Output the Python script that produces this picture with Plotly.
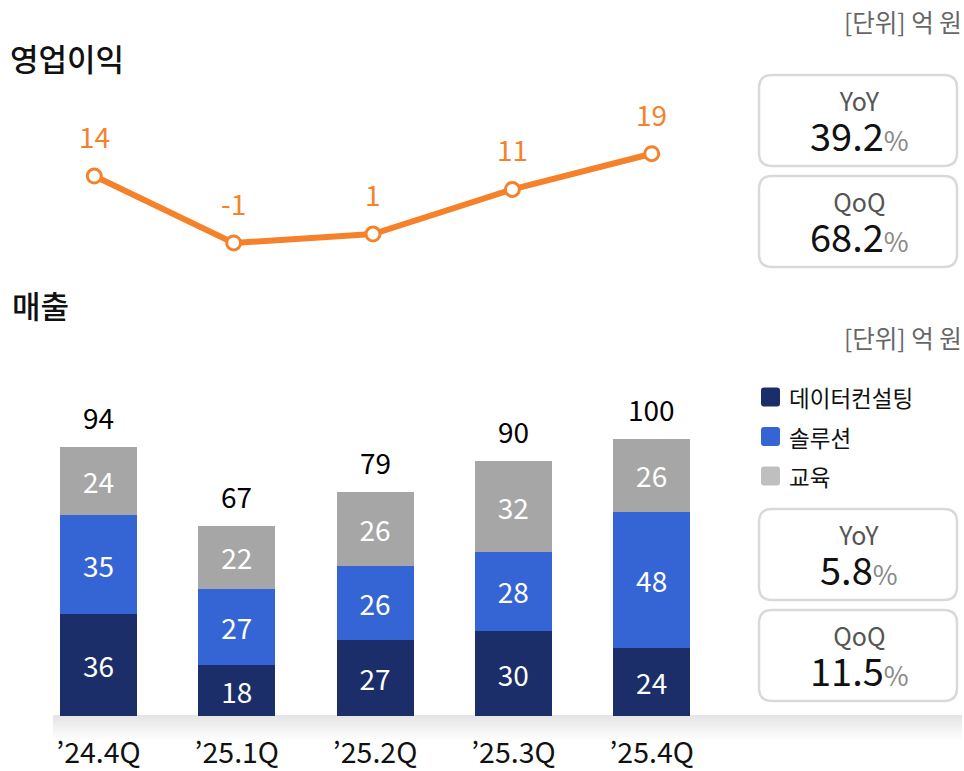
import plotly.graph_objects as go

# ---------------- data ----------------
quarters = ["’24.4Q", "’25.1Q", "’25.2Q", "’25.3Q", "’25.4Q"]
op_profit = [14, -1, 1, 11, 19]
consulting = [36, 18, 27, 30, 24]
solution = [35, 27, 26, 28, 48]
education = [24, 22, 26, 32, 26]
revenue_total = [94, 67, 79, 90, 100]
series_names = ["데이터컨설팅", "솔루션", "교육"]
op_growth_labels = ["YoY", "QoQ"]
op_growth_values = ["39.2", "68.2"]
rev_growth_labels = ["YoY", "QoQ"]
rev_growth_values = ["5.8", "11.5"]
unit_text = "[단위] 억 원"
title_op = "영업이익"
title_rev = "매출"

# ---------------- style ----------------
W, H = 964, 771
FONT = "Noto Sans CJK KR"
C_NAVY = "#1b2e69"
C_BLUE = "#3565d4"
C_GRAY = "#a6a6a6"
C_LEG_GRAY = "#bfbfbf"
C_ORANGE = "#f5822a"
colors = [C_NAVY, C_BLUE, C_GRAY]


def px(x):
    return x / W


def py(y):
    return 1 - y / H


def rrect(x0, y0, x1, y1, r):
    X0, X1 = px(x0), px(x1)
    Y0, Y1 = py(y0), py(y1)  # Y0 top, Y1 bottom
    rx, ry = r / W, r / H
    return (f"M {X0+rx},{Y0} L {X1-rx},{Y0} Q {X1},{Y0} {X1},{Y0-ry} "
            f"L {X1},{Y1+ry} Q {X1},{Y1} {X1-rx},{Y1} L {X0+rx},{Y1} "
            f"Q {X0},{Y1} {X0},{Y1+ry} L {X0},{Y0-ry} Q {X0},{Y0} {X0+rx},{Y0} Z")


fig = go.Figure()

# stacked bars
for name, vals, col in zip(series_names, [consulting, solution, education], colors):
    fig.add_trace(go.Bar(
        x=quarters, y=vals, name=name, marker=dict(color=col, line=dict(width=0)),
        text=[str(v) for v in vals], textposition="inside", insidetextanchor="middle",
        textangle=0, textfont=dict(family=FONT, size=28, color="white"),
        xaxis="x", yaxis="y", showlegend=False, cliponaxis=False,
    ))

# operating profit line
fig.add_trace(go.Scatter(
    x=quarters, y=op_profit, mode="lines+markers",
    line=dict(color=C_ORANGE, width=6),
    marker=dict(size=14, color="white", line=dict(color=C_ORANGE, width=3)),
    xaxis="x2", yaxis="y2", showlegend=False, cliponaxis=False,
))

annotations = []
shapes = []

# line value labels
for q, v in zip(quarters, op_profit):
    annotations.append(dict(x=q, y=v, xref="x2", yref="y2", text=str(v), showarrow=False,
                            yshift=40, font=dict(family=FONT, size=28, color=C_ORANGE)))

# bar totals
for i, q in enumerate(quarters):
    top = consulting[i] + solution[i] + education[i]
    annotations.append(dict(x=q, y=top, xref="x", yref="y", text=str(revenue_total[i]),
                            showarrow=False, yshift=30,
                            font=dict(family=FONT, size=28, color="black")))

# titles and unit labels
annotations.append(dict(x=px(8), y=py(58), xref="paper", yref="paper", text=title_op,
                        showarrow=False, xanchor="left", yanchor="middle",
                        font=dict(family=FONT, size=31, color="#111", weight=500)))
annotations.append(dict(x=px(10), y=py(305), xref="paper", yref="paper", text=title_rev,
                        showarrow=False, xanchor="left", yanchor="middle",
                        font=dict(family=FONT, size=31, color="#111", weight=500)))
for yc in (21, 337):
    annotations.append(dict(x=px(964), y=py(yc), xref="paper", yref="paper", text=unit_text,
                            showarrow=False, xanchor="right", yanchor="middle",
                            font=dict(family=FONT, size=24.5, color="#666")))

# KPI boxes
boxes = [
    (75, 166, op_growth_labels[0], op_growth_values[0]),
    (176, 267, op_growth_labels[1], op_growth_values[1]),
    (509, 600, rev_growth_labels[0], rev_growth_values[0]),
    (610, 701, rev_growth_labels[1], rev_growth_values[1]),
]
for y0, y1, lab, val in boxes:
    shapes.append(dict(type="path", path=rrect(759, y0, 957, y1, 13), xref="paper", yref="paper",
                       line=dict(color="#d9d9d9", width=2.5), fillcolor="white", layer="below"))
    txt = (f"<span style='font-size:25px;color:#555'>{lab}</span><br>"
           f"<span style='font-size:38px;color:#111'>{val}</span>"
           f"<span style='font-size:27px;color:#888'>%</span>")
    annotations.append(dict(x=px(859), y=py(y0 + 47), xref="paper", yref="paper", text=txt,
                            showarrow=False, xanchor="center", yanchor="middle", align="center",
                            font=dict(family=FONT, size=31, color="#111")))

# custom legend
leg_centers = [397, 436.5, 476]
leg_cols = [C_NAVY, C_BLUE, C_LEG_GRAY]
for yc, col, name in zip(leg_centers, leg_cols, series_names):
    shapes.append(dict(type="path", path=rrect(761, yc - 9.5, 780, yc + 9.5, 3), xref="paper",
                       yref="paper", line=dict(width=0), fillcolor=col))
    annotations.append(dict(x=px(787), y=py(yc), xref="paper", yref="paper", text=name,
                            showarrow=False, xanchor="left", yanchor="middle",
                            font=dict(family=FONT, size=22.5, color="#111")))

# gradient baseline band
n = 13
for k in range(n):
    t = k / (n - 1)
    c = int(229 + (255 - 229) * t)
    shapes.append(dict(type="rect", xref="paper", yref="paper",
                       x0=px(53), x1=px(962), y0=py(715 + 2 * k), y1=py(715 + 2 * (k + 1)),
                       line=dict(width=0), fillcolor=f"rgb({c},{c},{c})", layer="below"))

fig.update_layout(
    width=W, height=H, autosize=False,
    margin=dict(l=0, r=0, t=0, b=0, pad=0),
    paper_bgcolor="white", plot_bgcolor="rgba(0,0,0,0)",
    barmode="stack", bargap=0.443,
    showlegend=False,
    font=dict(family=FONT),
    xaxis=dict(domain=[px(29.35), px(720.8)], type="category", range=[-0.5, 4.5],
               anchor="y", showgrid=False, showline=False, zeroline=False, ticks="",
               tickfont=dict(family=FONT, size=28.5, color="#111"), ticklabelstandoff=17,
               fixedrange=True),
    yaxis=dict(domain=[py(716), py(380)], range=[0, 118.7], visible=False, fixedrange=True),
    xaxis2=dict(domain=[px(24.6), px(721.4)], type="category", range=[-0.5, 4.5],
                anchor="y2", visible=False, fixedrange=True),
    yaxis2=dict(domain=[py(270), py(100)], range=[-7.06, 31.04], visible=False,
                anchor="x2", fixedrange=True),
    annotations=annotations,
    shapes=shapes,
)

fig.write_html("out.html", config={"displayModeBar": False},
               post_script="document.body.style.margin='0';document.body.style.overflow='hidden';")
